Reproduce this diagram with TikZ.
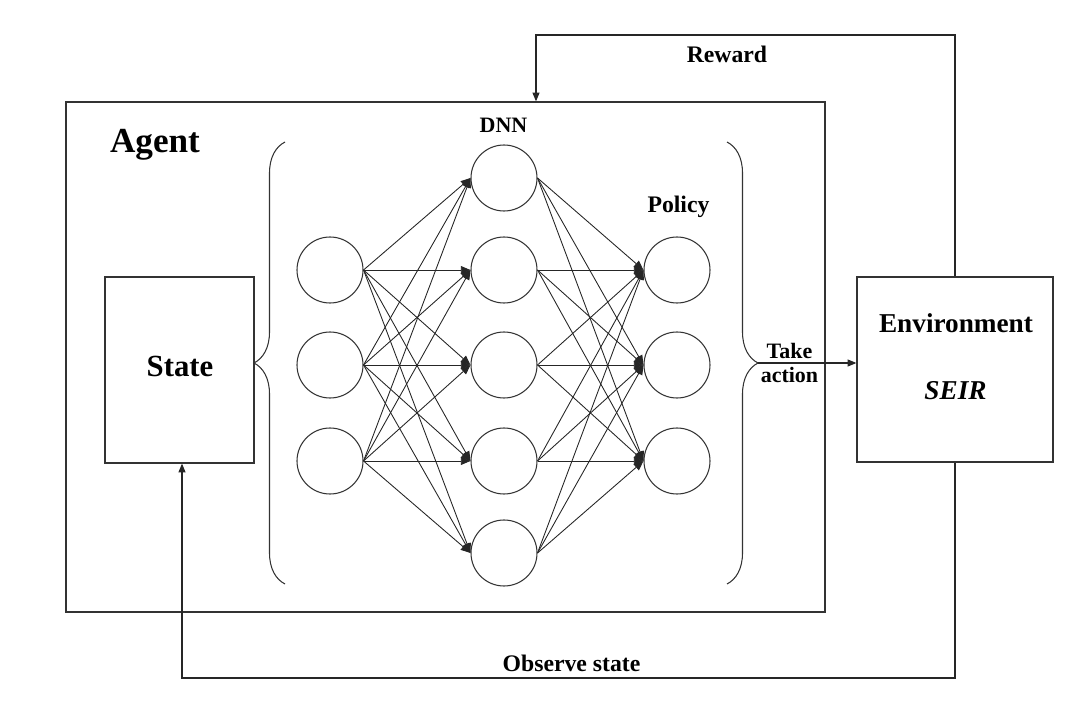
\documentclass[tikz,border=0pt]{standalone}
\usepackage{fontspec}
\setmainfont{Liberation Serif}
\usetikzlibrary{arrows.meta,positioning,decorations.pathreplacing,calc}

\begin{document}
\begin{tikzpicture}[
  box/.style={rectangle,draw=black!80,line width=0.7pt},
  neuron/.style={circle,draw=black!80,line width=0.6pt,
    minimum size=1.32cm,inner sep=0pt},
  arrow/.style={-{Triangle[length=5pt,width=4pt]},line width=0.6pt,draw=black!85},
  link/.style={-{Triangle[length=5.5pt,width=4.5pt]},line width=0.5pt,draw=black!85},
  brace/.style={decorate,decoration={brace,amplitude=0.62cm},
    line width=0.6pt,draw=black!80},
  title/.style={font=\fontsize{13.5}{16}\selectfont\bfseries,anchor=base},
  big/.style={font=\fontsize{15.5}{18}\selectfont\bfseries,anchor=base},
]
\useasboundingbox (0,0) rectangle (21.64,14.16);

% boxes
\node[box,minimum width=15.18cm,minimum height=10.2cm] (agent) at (8.91,7.02) {};
\node[box,minimum width=2.98cm,minimum height=3.72cm] (state) at (3.59,6.76) {};
\node[box,minimum width=3.92cm,minimum height=3.7cm] (env) at (19.1,6.77) {};

% network
\foreach \i/\y in {1/8.76,2/6.86,3/4.94}
  \node[neuron] (in\i) at (6.6,\y) {};
\foreach \i/\y in {1/10.6,2/8.76,3/6.86,4/4.94,5/3.1}
  \node[neuron] (h\i) at (10.08,\y) {};
\foreach \i/\y in {1/8.76,2/6.86,3/4.94}
  \node[neuron] (out\i) at (13.54,\y) {};

\foreach \a in {1,2,3}
  \foreach \b in {1,...,5}
    \draw[link] (in\a.east) -- (h\b.west);
\foreach \a in {1,...,5}
  \foreach \b in {1,2,3}
    \draw[link] (h\a.east) -- (out\b.west);

% braces
\draw[brace] (5.7,2.48) -- (5.7,11.32);
\draw[brace] (14.54,11.32) -- (14.54,2.48);
\coordinate (tip) at (15.16,6.9);

% loop
\draw[arrow] (tip) -- node[pos=.32,align=center,
  font=\fontsize{12.5}{14}\selectfont\bfseries]{Take\\action} (tip -| env.west);
\coordinate (rtop) at (10.72,13.46);
\draw[arrow] (env.north) |- (rtop) -- (rtop |- agent.north);
\coordinate (obot) at (3.64,0.6);
\draw[arrow] (env.south) |- (obot) -- (obot |- state.south);

% labels
\node[font=\fontsize{20}{24}\selectfont\bfseries,anchor=base] (agentlbl) at (3.1,11.1) {Agent};
\node[title,font=\fontsize{12.5}{15}\selectfont\bfseries] (dnn) at (10.07,11.52) {DNN};
\node[title] (policy) at (13.57,9.92) {Policy};
\node[title] (reward) at (14.54,12.9) {Reward};
\node[title] (observe) at (11.43,0.74) {Observe state};
\node[font=\fontsize{17.5}{20}\selectfont\bfseries,anchor=base] (statelbl) at (3.6,6.64) {State};
\node[big] (envlbl) at (19.12,7.52) {Environment};
\node[big] (seir) at (19.11,6.18) {\itshape SEIR};
\end{tikzpicture}
\end{document}
